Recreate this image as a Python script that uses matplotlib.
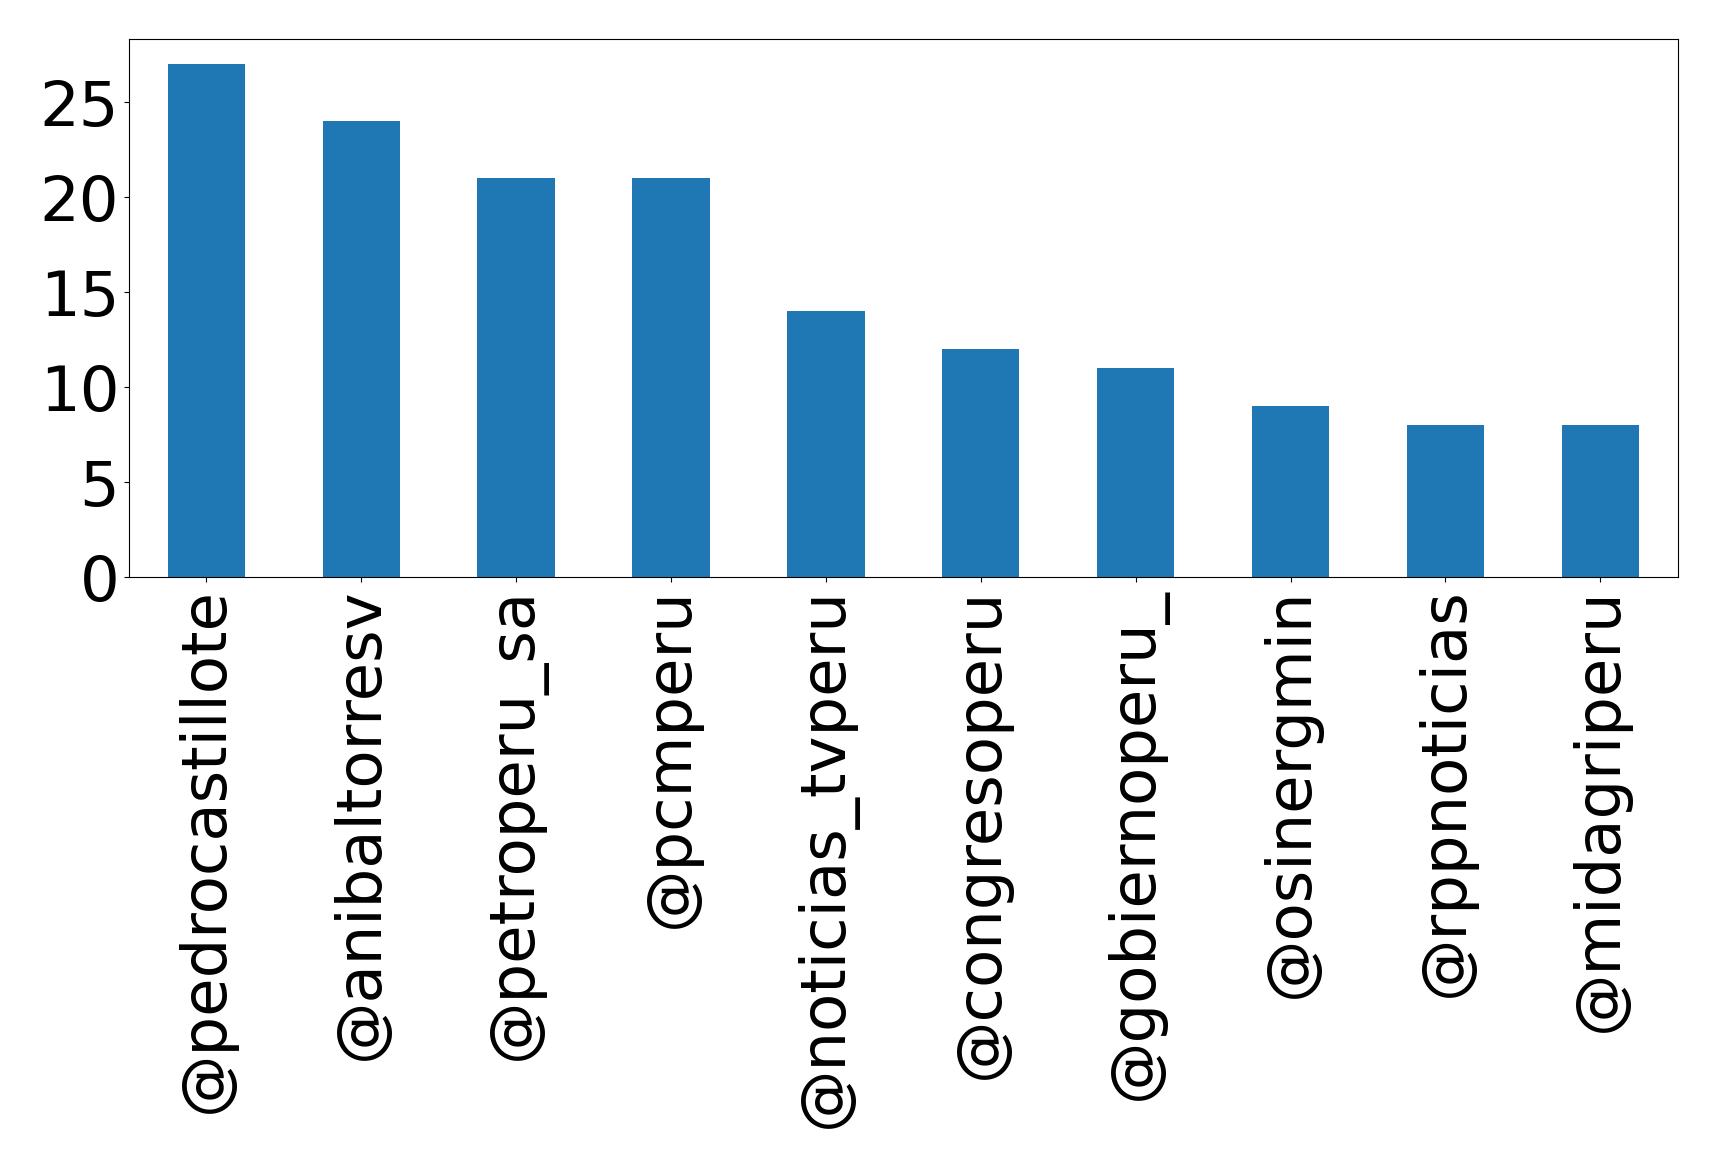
import matplotlib
matplotlib.use("Agg")
import matplotlib.pyplot as plt
from matplotlib.ticker import MultipleLocator

accounts = ["@pedrocastillote", "@anibaltorresv", "@petroperu_sa", "@pcmperu",
            "@noticias_tvperu", "@congresoperu", "@gobiernoperu_", "@osinergmin",
            "@rppnoticias", "@midagriperu"]
counts = [27, 24, 21, 21, 14, 12, 11, 9, 8, 8]

fig, ax = plt.subplots(figsize=(17.19, 11.69), dpi=100)
ax.bar(range(len(accounts)), counts, width=0.5, color="#1f77b4")
ax.set_xlim(-0.5, len(accounts) - 0.5)
ax.set_xticks(range(len(accounts)))
ax.set_xticklabels(accounts, rotation=90, fontsize=45)
ax.yaxis.set_major_locator(MultipleLocator(5))
ax.tick_params(axis="y", labelsize=45)
fig.subplots_adjust(left=0.075, right=0.976, top=0.967, bottom=0.506)
fig.savefig("out.png", dpi=100)
